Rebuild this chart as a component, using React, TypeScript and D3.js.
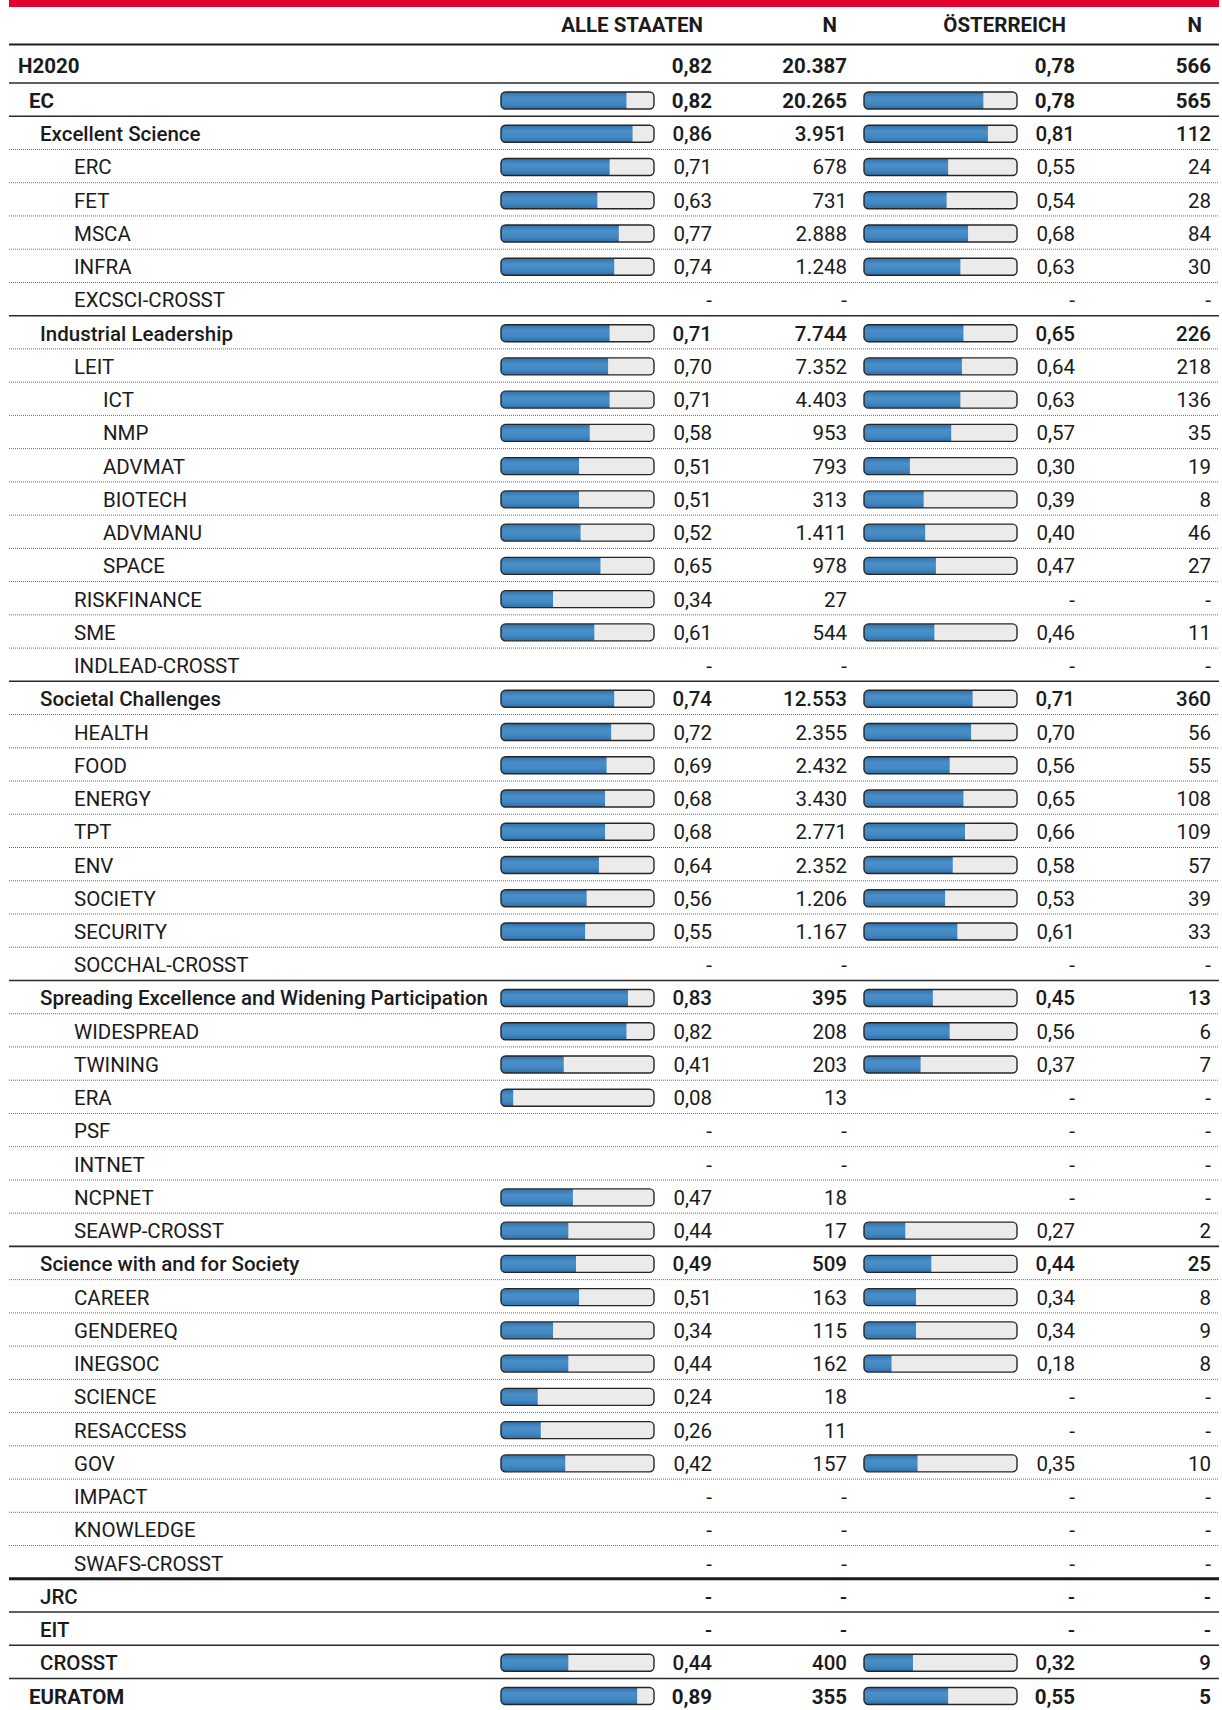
import React from "react";
import * as d3 from "d3";

// ---------- DATA ----------
const labels = [
  "H2020", "EC", "Excellent Science", "ERC", "FET", "MSCA", "INFRA", "EXCSCI-CROSST",
  "Industrial Leadership", "LEIT", "ICT", "NMP", "ADVMAT", "BIOTECH", "ADVMANU", "SPACE",
  "RISKFINANCE", "SME", "INDLEAD-CROSST",
  "Societal Challenges", "HEALTH", "FOOD", "ENERGY", "TPT", "ENV", "SOCIETY", "SECURITY", "SOCCHAL-CROSST",
  "Spreading Excellence and Widening Participation", "WIDESPREAD", "TWINING", "ERA", "PSF", "INTNET", "NCPNET", "SEAWP-CROSST",
  "Science with and for Society", "CAREER", "GENDEREQ", "INEGSOC", "SCIENCE", "RESACCESS", "GOV", "IMPACT", "KNOWLEDGE", "SWAFS-CROSST",
  "JRC", "EIT", "CROSST", "EURATOM",
];

// level: top0 = H2020, top = EC/EURATOM, group = programme parts, sub, subsub
const levels = [
  "top0", "top", "group", "sub", "sub", "sub", "sub", "sub",
  "group", "sub", "subsub", "subsub", "subsub", "subsub", "subsub", "subsub",
  "sub", "sub", "sub",
  "group", "sub", "sub", "sub", "sub", "sub", "sub", "sub", "sub",
  "group", "sub", "sub", "sub", "sub", "sub", "sub", "sub",
  "group", "sub", "sub", "sub", "sub", "sub", "sub", "sub", "sub", "sub",
  "group", "group", "group", "top",
];

// ALLE STAATEN share
const alleValues: (number | null)[] = [
  0.82, 0.82, 0.86, 0.71, 0.63, 0.77, 0.74, null,
  0.71, 0.70, 0.71, 0.58, 0.51, 0.51, 0.52, 0.65,
  0.34, 0.61, null,
  0.74, 0.72, 0.69, 0.68, 0.68, 0.64, 0.56, 0.55, null,
  0.83, 0.82, 0.41, 0.08, null, null, 0.47, 0.44,
  0.49, 0.51, 0.34, 0.44, 0.24, 0.26, 0.42, null, null, null,
  null, null, 0.44, 0.89,
];
const alleN: (string | null)[] = [
  "20.387", "20.265", "3.951", "678", "731", "2.888", "1.248", null,
  "7.744", "7.352", "4.403", "953", "793", "313", "1.411", "978",
  "27", "544", null,
  "12.553", "2.355", "2.432", "3.430", "2.771", "2.352", "1.206", "1.167", null,
  "395", "208", "203", "13", null, null, "18", "17",
  "509", "163", "115", "162", "18", "11", "157", null, null, null,
  null, null, "400", "355",
];
// ÖSTERREICH share
const atValues: (number | null)[] = [
  0.78, 0.78, 0.81, 0.55, 0.54, 0.68, 0.63, null,
  0.65, 0.64, 0.63, 0.57, 0.30, 0.39, 0.40, 0.47,
  null, 0.46, null,
  0.71, 0.70, 0.56, 0.65, 0.66, 0.58, 0.53, 0.61, null,
  0.45, 0.56, 0.37, null, null, null, null, 0.27,
  0.44, 0.34, 0.34, 0.18, null, null, 0.35, null, null, null,
  null, null, 0.32, 0.55,
];
const atN: (string | null)[] = [
  "566", "565", "112", "24", "28", "84", "30", null,
  "226", "218", "136", "35", "19", "8", "46", "27",
  null, "11", null,
  "360", "56", "55", "108", "109", "57", "39", "33", null,
  "13", "6", "7", null, null, null, null, "2",
  "25", "8", "9", "8", null, null, "10", null, null, null,
  null, null, "9", "5",
];

const headers = ["ALLE STAATEN", "N", "ÖSTERREICH", "N"];

// ---------- LAYOUT ----------
const W = 1222;
const H = 1710;
const FONT = "Roboto, 'DejaVu Sans', sans-serif";
const TEXT = "#1b1b1b";

const indentX: Record<string, number> = { top0: 18, top: 29, group: 40, sub: 74, subsub: 103 };
const labelWeight: Record<string, number> = { top0: 700, top: 700, group: 500, sub: 400, subsub: 400 };

const lineLeft = 9;
const lineRight = 1219;
const colRight = [712, 847, 1075, 1211];
const headRight = [703, 837, 1066, 1202];
const barX = [501, 864];
const barW = 153;
const barH = 17;

function lineStyle(i: number): string {
  if (i === 0) return "none";
  if (i === 1) return "solid";
  const lv = levels[i];
  if (labels[i] === "JRC") return "thick";
  if (lv === "group" || lv === "top") return "solid";
  return "dotted";
}

export default function App() {
  const n = labels.length;
  const rowTop = d3.scaleLinear().domain([1, n - 1]).range([83, 83 + (n - 2) * 33.24]);
  const h2020Top = 45;
  const rowCenter = (i: number) => (i === 0 ? 65 : rowTop(i) + 17.5);
  const bx = d3.scaleLinear().domain([0, 1]).range([0, barW]);

  const valueWeight = (i: number) => {
    const lv = levels[i];
    if (lv === "top0" || lv === "top") return 700;
    if (lv === "group") return 500;
    return 400;
  };

  const fmt = (v: number | null) => (v == null ? "-" : d3.format(".2f")(v).replace(".", ","));

  const bar = (i: number, col: number, v: number | null) => {
    if (v == null || i === 0) return null;
    const x = barX[col];
    const y = rowCenter(i) - barH / 2;
    const clipId = `clip-${i}-${col}`;
    return (
      <g key={`bar-${i}-${col}`}>
        <clipPath id={clipId}>
          <rect x={x} y={y} width={barW} height={barH} rx={4.5} ry={4.5} />
        </clipPath>
        <rect x={x} y={y} width={barW} height={barH} rx={4.5} ry={4.5} fill="#ebebeb" />
        <rect x={x} y={y} width={bx(v)} height={barH} fill="url(#blueGrad)" clipPath={`url(#${clipId})`} />
        <rect x={x} y={y} width={barW} height={barH} rx={4.5} ry={4.5} fill="none" stroke="#262626" strokeWidth={1.4} />
      </g>
    );
  };

  const FS = 20.5;

  const rows = labels.map((lab, i) => {
    const lv = levels[i];
    const cy = rowCenter(i);
    const base = cy + 7.5;
    const wv = valueWeight(i);
    const top = i === 0 ? h2020Top : rowTop(i);
    const ls = lineStyle(i);
    return (
      <g key={`row-${i}`}>
        {ls === "dotted" && (
          <line x1={lineLeft} x2={lineRight} y1={top} y2={top} stroke="#6b6b6b" strokeWidth={1} strokeDasharray="1 1" />
        )}
        {ls === "solid" && (
          <line x1={lineLeft} x2={lineRight} y1={top} y2={top} stroke="#2b2b2b" strokeWidth={1.6} />
        )}
        {ls === "thick" && (
          <line x1={lineLeft} x2={lineRight} y1={top} y2={top} stroke="#1a1a1a" strokeWidth={3} />
        )}
        <text x={indentX[lv]} y={base} fontSize={FS} fontWeight={labelWeight[lv]} fill={TEXT}>
          {lab}
        </text>
        {bar(i, 0, alleValues[i])}
        {bar(i, 1, atValues[i])}
        <text x={colRight[0]} y={base} textAnchor="end" fontSize={FS} fontWeight={wv} fill={TEXT}>
          {fmt(alleValues[i])}
        </text>
        <text x={colRight[1]} y={base} textAnchor="end" fontSize={FS} fontWeight={wv} fill={TEXT}>
          {alleN[i] ?? "-"}
        </text>
        <text x={colRight[2]} y={base} textAnchor="end" fontSize={FS} fontWeight={wv} fill={TEXT}>
          {fmt(atValues[i])}
        </text>
        <text x={colRight[3]} y={base} textAnchor="end" fontSize={FS} fontWeight={wv} fill={TEXT}>
          {atN[i] ?? "-"}
        </text>
      </g>
    );
  });

  return (
    <div style={{ position: "absolute", left: 0, top: 0 }}>
      <svg width={W} height={H} viewBox={`0 0 ${W} ${H}`} style={{ display: "block", background: "#fff" }} fontFamily={FONT}>
        <defs>
          <linearGradient id="blueGrad" x1="0" y1="0" x2="0" y2="1">
            <stop offset="0%" stopColor="#3470a8" />
            <stop offset="35%" stopColor="#4a8fc8" />
            <stop offset="70%" stopColor="#4188c2" />
            <stop offset="100%" stopColor="#326ea5" />
          </linearGradient>
        </defs>
        <rect x={9} y={0} width={1210} height={7} fill="#e3002c" />
        {headers.map((h, k) => (
          <text key={h + k} x={headRight[k]} y={32} textAnchor="end" fontSize={20.5} fontWeight={700} fill={TEXT}>
            {h}
          </text>
        ))}
        <line x1={lineLeft} x2={lineRight} y1={44.5} y2={44.5} stroke="#1e1e1e" strokeWidth={2} />
        {rows}
      </svg>
    </div>
  );
}
